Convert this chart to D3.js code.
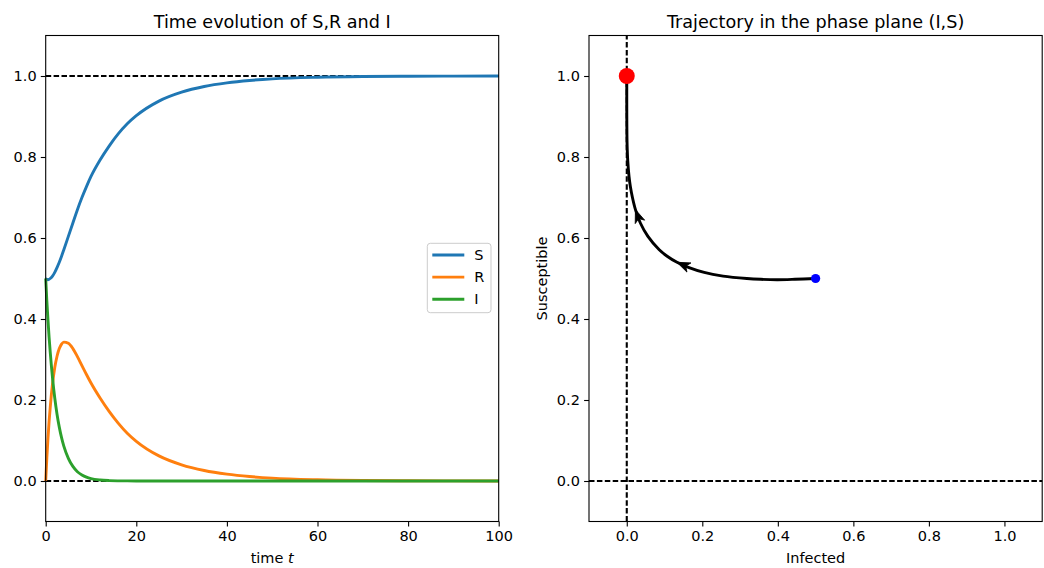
<!DOCTYPE html>
<html><head><meta charset="utf-8">
<script src="https://cdn.jsdelivr.net/npm/d3@7"></script>
<style>
body{margin:0;background:#fff;}
text{font-family:"DejaVu Sans",sans-serif;fill:#000;}
</style></head>
<body><svg id="chart" width="1044" height="568"></svg>
<script>
// ---- data ----
const times = [0,0.25,0.5,0.75,1,1.5,2,2.5,3,3.5,4,5,6,7,8,9,10,12,14,16,18,20,25,30,35,40,45,50,60,70,80,90,100];
const seriesS = [0.5,0.498,0.497,0.498,0.5,0.506,0.515,0.527,0.54,0.555,0.571,0.604,0.637,0.67,0.70,0.727,0.752,0.7925,0.827,0.857,0.882,0.902,0.938,0.96,0.974,0.983,0.989,0.993,0.997,0.9988,0.9995,0.9998,0.9999];
const seriesR = [0,0.057,0.105,0.147,0.182,0.239,0.28,0.308,0.327,0.338,0.343,0.34,0.327,0.307,0.285,0.263,0.242,0.205,0.172,0.143,0.118,0.098,0.062,0.04,0.026,0.017,0.011,0.007,0.003,0.0012,0.0005,0.0002,0.0001];
const seriesI = [0.5,0.445,0.398,0.355,0.318,0.255,0.205,0.165,0.133,0.107,0.086,0.056,0.036,0.023,0.015,0.0095,0.006,0.0025,0.001,0.0004,0.0002,0.0001,0,0,0,0,0,0,0,0,0,0,0];
const seriesNames = ["S","R","I"];
const seriesColors = ["#1f77b4","#ff7f0e","#2ca02c"];
const timeTicks = [0,20,40,60,80,100];
const valueTicks = [0,0.2,0.4,0.6,0.8,1.0];
const infectedTicks = [0,0.2,0.4,0.6,0.8,1.0];
const arrowTimes = [3,7];
const startPoint = {I:0.5,S:0.5};
const endPoint = {I:0,S:1};

const svg = d3.select("#chart");
const FS = 14.5;
const TFS = 17.6;

const yScale = d3.scaleLinear().domain([-0.1,1.1]).range([521.5,35.5]);
const xTime = d3.scaleLinear().domain([0,100]).range([45.7,498.7]);
const xInf = d3.scaleLinear().domain([-0.1,1.1]).range([589,1042.2]);

function frame(g, x, xticks, xfmt, xlabel, title, ylabel){
  const [x0,x1] = x.range();
  const yb = yScale(-0.1), yt = yScale(1.1);
  const xa = g.append("g").attr("transform",`translate(0,${yb})`)
    .call(d3.axisBottom(x).tickValues(xticks).tickFormat(xfmt).tickSize(4.9).tickPadding(4.2));
  const ya = g.append("g").attr("transform",`translate(${x0},0)`)
    .call(d3.axisLeft(yScale).tickValues(valueTicks).tickFormat(d3.format(".1f")).tickSize(4.9).tickPadding(4.2));
  [xa,ya].forEach(a=>{
    a.select(".domain").remove();
    a.selectAll("line").attr("stroke","#000").attr("stroke-width",1.1);
    a.selectAll("text").style("font-family","DejaVu Sans").style("font-size",FS+"px").attr("fill","#000");
  });
  g.append("rect").attr("x",x0).attr("y",yt).attr("width",x1-x0).attr("height",yb-yt)
    .attr("fill","none").attr("stroke","#000").attr("stroke-width",1.1);
  g.append("text").attr("x",(x0+x1)/2).attr("y",28).attr("text-anchor","middle")
    .style("font-size",TFS+"px").text(title);
  const xl = g.append("text").attr("x",(x0+x1)/2).attr("y",563).attr("text-anchor","middle").style("font-size",FS+"px");
  xlabel(xl);
  if(ylabel){
    g.append("text").attr("transform",`translate(546.5,${(yb+yt)/2}) rotate(-90)`)
      .attr("text-anchor","middle").style("font-size",FS+"px").text(ylabel);
  }
}

// ---- left panel ----
const gL = svg.append("g");
const dashed = "5.5,2.4";
[1,0].forEach(v=>{
  gL.append("line").attr("x1",xTime.range()[0]).attr("x2",xTime.range()[1])
    .attr("y1",yScale(v)).attr("y2",yScale(v))
    .attr("stroke","#000").attr("stroke-width",2.1).attr("stroke-dasharray",dashed);
});
const allSeries = [seriesS, seriesR, seriesI];
const lineT = d3.line().x(d=>xTime(d[0])).y(d=>yScale(d[1])).curve(d3.curveMonotoneX);
allSeries.forEach((s,i)=>{
  gL.append("path").datum(times.map((t,k)=>[t,s[k]]))
    .attr("d",lineT).attr("fill","none").attr("stroke",seriesColors[i]).attr("stroke-width",2.9);
});
frame(gL, xTime, timeTicks, d3.format("d"), t=>{
  t.append("tspan").text("time ");
  t.append("tspan").style("font-style","italic").text("t");
}, "Time evolution of S,R and I", null);

// legend
const lg = gL.append("g").attr("transform","translate(427.3,243.3)");
lg.append("rect").attr("width",63.7).attr("height",69.4).attr("rx",3)
  .attr("fill","#fff").attr("fill-opacity",0.8).attr("stroke","#ccc").attr("stroke-width",1);
seriesNames.forEach((n,i)=>{
  const yy = 11.7 + i*22.1;
  lg.append("line").attr("x1",5).attr("x2",37).attr("y1",yy).attr("y2",yy)
    .attr("stroke",seriesColors[i]).attr("stroke-width",2.9);
  lg.append("text").attr("x",47).attr("y",yy+5.2).style("font-size",FS+"px").text(n);
});

// ---- right panel ----
const gR = svg.append("g");
gR.append("line").attr("x1",xInf.range()[0]).attr("x2",xInf.range()[1])
  .attr("y1",yScale(0)).attr("y2",yScale(0))
  .attr("stroke","#000").attr("stroke-width",2.1).attr("stroke-dasharray",dashed);
gR.append("line").attr("x1",xInf(0)).attr("x2",xInf(0))
  .attr("y1",yScale(-0.1)).attr("y2",yScale(1.1))
  .attr("stroke","#000").attr("stroke-width",2.1).attr("stroke-dasharray",dashed);

const phase = times.map((t,k)=>({t, I:seriesI[k], S:seriesS[k]}));
const lineP = d3.line().x(d=>xInf(d.I)).y(d=>yScale(d.S)).curve(d3.curveCatmullRom.alpha(0.5));
gR.append("path").datum(phase).attr("d",lineP).attr("fill","none")
  .attr("stroke","#000").attr("stroke-width",2.9);

arrowTimes.forEach(at=>{
  const k = times.indexOf(at);
  const p = phase[k], q = phase[k-1];
  const px = xInf(p.I), py = yScale(p.S);
  const ang = Math.atan2(py - yScale(q.S), px - xInf(q.I))*180/Math.PI;
  gR.append("path").attr("d","M0,0 L-13,-5 L-9.5,0 L-13,5 Z")
    .attr("transform",`translate(${px},${py}) rotate(${ang})`)
    .attr("fill","#000").attr("stroke","#000").attr("stroke-width",0.8);
});

gR.append("circle").attr("cx",xInf(startPoint.I)).attr("cy",yScale(startPoint.S)).attr("r",4.6).attr("fill","#0000ff");
gR.append("circle").attr("cx",xInf(endPoint.I)).attr("cy",yScale(endPoint.S)).attr("r",8).attr("fill","#ff0000");

frame(gR, xInf, infectedTicks, d3.format(".1f"), t=>t.text("Infected"),
  "Trajectory in the phase plane (I,S)", "Susceptible");
</script></body></html>
